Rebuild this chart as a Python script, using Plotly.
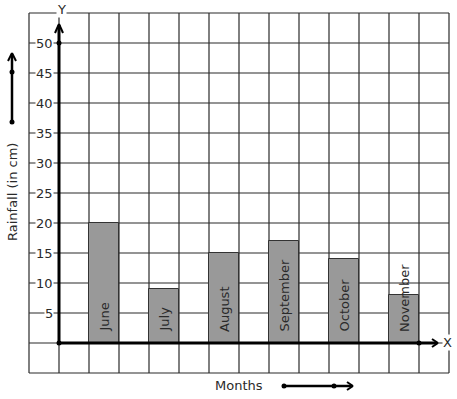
import plotly.graph_objects as go

# ---- data ----
months = ["June", "July", "August", "September", "October", "November"]
rainfall = [20, 9, 15, 17, 14, 8]
month_pos = [1.5, 3.5, 5.5, 7.5, 9.5, 11.5]
y_ticks = [5, 10, 15, 20, 25, 30, 35, 40, 45, 50]
y_tick_labels = ["5", "10", "15", "20", "25", "30", "35", "40", "45", "50"]

# ---- geometry (pixel <-> data) ----
W, H = 457, 399
OX, OY = 59, 343       # origin in pixels
SX, SY = 30, 6         # pixels per unit


def dx(px):
    return (px - OX) / SX


def dy(py):
    return (OY - py) / SY


FONT = "DejaVu Sans"
TXT = "#2a2a2a"
GRID = "#2a2a2a"

fig = go.Figure()

fig.add_trace(go.Bar(
    x=month_pos, y=rainfall, width=1,
    marker=dict(color="#999999", line=dict(color="#333333", width=1)),
    hoverinfo="skip", showlegend=False,
))

# dots on the axes
fig.add_trace(go.Scatter(
    x=[0, 0, 12], y=[0, 50, 0], mode="markers",
    marker=dict(color="black", size=5), hoverinfo="skip", showlegend=False,
))

shapes = []
# grid
for gx in range(-1, 14):
    shapes.append(dict(type="line", xref="x", yref="y", x0=gx, x1=gx, y0=-5, y1=55,
                       line=dict(color=GRID, width=1.2), layer="below"))
for gy in range(-5, 56, 5):
    shapes.append(dict(type="line", xref="x", yref="y", x0=-1, x1=13, y0=gy, y1=gy,
                       line=dict(color=GRID, width=1.2), layer="below"))


def seg(x0, y0, x1, y1, w=2.5):
    shapes.append(dict(type="line", xref="x", yref="y",
                       x0=dx(x0), y0=dy(y0), x1=dx(x1), y1=dy(y1),
                       line=dict(color="black", width=w), layer="above"))


# Y axis with arrow
seg(59, 343, 59, 25, 3)
seg(59, 24, 55, 33, 2)
seg(59, 24, 63, 33, 2)
# X axis with arrow
seg(59, 343, 437, 343, 3)
seg(438, 343, 432, 339, 2)
seg(438, 343, 432, 347, 2)
# left arrow
seg(12, 122, 12, 54, 2.5)
seg(12, 53, 8, 61, 2)
seg(12, 53, 16, 61, 2)
# bottom arrow
seg(284, 386, 352, 386, 2.5)
seg(353, 386, 347, 382, 2)
seg(353, 386, 347, 390, 2)

fig.add_trace(go.Scatter(
    x=[dx(12), dx(12), dx(284), dx(334)], y=[dy(72), dy(122), dy(386), dy(386)],
    mode="markers", marker=dict(color="black", size=5),
    hoverinfo="skip", showlegend=False,
))

annotations = []
for v, lab in zip(y_ticks, y_tick_labels):
    annotations.append(dict(x=dx(54), y=v, xref="x", yref="y", text=lab,
                            showarrow=False, xanchor="right", yanchor="middle",
                            bgcolor="white", borderpad=0,
                            font=dict(family=FONT, size=13, color=TXT)))
for m, p in zip(months, month_pos):
    annotations.append(dict(x=p, y=0, xref="x", yref="y", text=m, textangle=-90,
                            showarrow=False, xanchor="center", yanchor="bottom",
                            yshift=9, font=dict(family=FONT, size=13, color=TXT)))

annotations += [
    dict(x=dx(61), y=dy(9), xref="x", yref="y", text="Y", showarrow=False,
         bgcolor="white", borderpad=0, font=dict(family=FONT, size=13, color=TXT)),
    dict(x=dx(447), y=dy(342), xref="x", yref="y", text="X", showarrow=False,
         bgcolor="white", borderpad=0, font=dict(family=FONT, size=13, color=TXT)),
    dict(x=dx(239), y=dy(385), xref="x", yref="y", text="Months", showarrow=False,
         font=dict(family=FONT, size=13, color=TXT)),
    dict(x=dx(12), y=dy(192), xref="x", yref="y", text="Rainfall (in cm)",
         textangle=-90, showarrow=False, font=dict(family=FONT, size=13, color=TXT)),
]

fig.update_layout(
    width=W, height=H,
    margin=dict(l=0, r=0, t=0, b=0),
    paper_bgcolor="white", plot_bgcolor="white",
    xaxis=dict(range=[dx(0), dx(W)], visible=False, fixedrange=True),
    yaxis=dict(range=[dy(H), dy(0)], visible=False, fixedrange=True),
    shapes=shapes, annotations=annotations,
    bargap=0,
)

fig.write_html("out.html", config={"displayModeBar": False},
               post_script="document.body.style.margin='0';document.body.style.overflow='hidden';")
